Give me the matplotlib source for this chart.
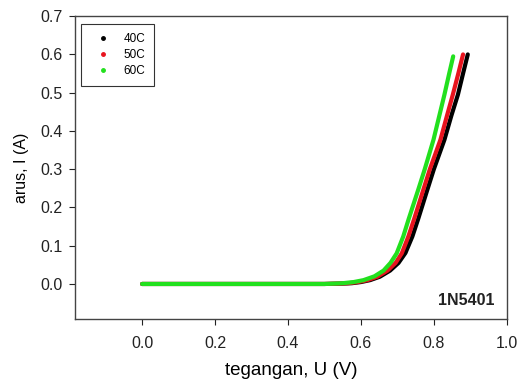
import matplotlib.pyplot as plt

plt.rcParams["font.family"] = ["Liberation Sans", "DejaVu Sans"]

# tegangan (V) dan arus (A)
u_40c = [0.00, 0.10, 0.20, 0.30, 0.40, 0.50, 0.55, 0.575, 0.600, 0.625, 0.652, 0.680, 0.703, 0.722,
         0.741, 0.757, 0.782, 0.800, 0.829, 0.848, 0.866, 0.880, 0.893]
i_40c = [0.000, 0.000, 0.000, 0.000, 0.000, 0.000, 0.001, 0.002, 0.005, 0.010, 0.019, 0.035, 0.055, 0.081,
         0.124, 0.170, 0.246, 0.300, 0.377, 0.440, 0.495, 0.550, 0.600]

u_50c = [0.00, 0.10, 0.20, 0.30, 0.40, 0.50, 0.54, 0.565, 0.592, 0.618, 0.645, 0.673, 0.695, 0.712,
         0.730, 0.746, 0.771, 0.789, 0.818, 0.836, 0.852, 0.867, 0.880]
i_50c = [0.000, 0.000, 0.000, 0.000, 0.000, 0.000, 0.001, 0.002, 0.005, 0.010, 0.019, 0.035, 0.055, 0.080,
         0.124, 0.170, 0.246, 0.300, 0.377, 0.440, 0.495, 0.550, 0.600]

u_60c = [0.00, 0.10, 0.20, 0.30, 0.40, 0.50, 0.53, 0.550, 0.580, 0.607, 0.637, 0.662, 0.681, 0.698,
         0.716, 0.731, 0.757, 0.775, 0.799, 0.815, 0.829, 0.842, 0.853]
i_60c = [0.000, 0.000, 0.000, 0.000, 0.000, 0.000, 0.001, 0.002, 0.005, 0.010, 0.020, 0.035, 0.055, 0.080,
         0.124, 0.170, 0.246, 0.300, 0.377, 0.440, 0.495, 0.550, 0.595]

series = [
    ("40C", u_40c, i_40c, "black"),
    ("50C", u_50c, i_50c, "#e8141e"),
    ("60C", u_60c, i_60c, "#22e01e"),
]

fig = plt.figure(figsize=(5.19, 3.85), dpi=100)
ax = fig.add_axes([0.1445, 0.171, 0.832, 0.787])

for label, u, i, color in series:
    ax.plot(u, i, color=color, linewidth=3.0, solid_capstyle="round", solid_joinstyle="round")
    # titik kecil hanya untuk legenda
    ax.plot([], [], linestyle="none", marker="o", markersize=2.5, color=color, label=label)

ax.set_xlim(-0.184, 1.0)
ax.set_ylim(-0.092, 0.7)
ax.set_xticks([0.0, 0.2, 0.4, 0.6, 0.8, 1.0])
ax.set_yticks([0.0, 0.1, 0.2, 0.3, 0.4, 0.5, 0.6, 0.7])
ax.xaxis.set_major_formatter(plt.FormatStrFormatter("%.1f"))
ax.yaxis.set_major_formatter(plt.FormatStrFormatter("%.1f"))
ax.tick_params(direction="out", length=4, width=0.8, labelsize=11.5, colors="#222222")
ax.tick_params(axis="x", pad=8)
ax.tick_params(axis="y", pad=5)
for spine in ax.spines.values():
    spine.set_color("#444444")
    spine.set_linewidth(1.0)

ax.set_xlabel("tegangan, U (V)", fontsize=13.5, labelpad=8)
ax.set_ylabel("arus, I (A)", fontsize=11.5, labelpad=8)

ax.text(0.972, 0.036, "1N5401", transform=ax.transAxes, ha="right", va="bottom",
        fontsize=11.5, fontweight="bold", color="#222222")

leg = ax.legend(loc="upper left", bbox_to_anchor=(0.014, 0.974), fontsize=8.5,
                frameon=True, fancybox=False, handlelength=2.2, handletextpad=0.65,
                borderpad=0.75, labelspacing=0.35, borderaxespad=0)
leg.get_frame().set_edgecolor("black")
leg.get_frame().set_linewidth(0.8)

fig.savefig("out.png", dpi=100)
